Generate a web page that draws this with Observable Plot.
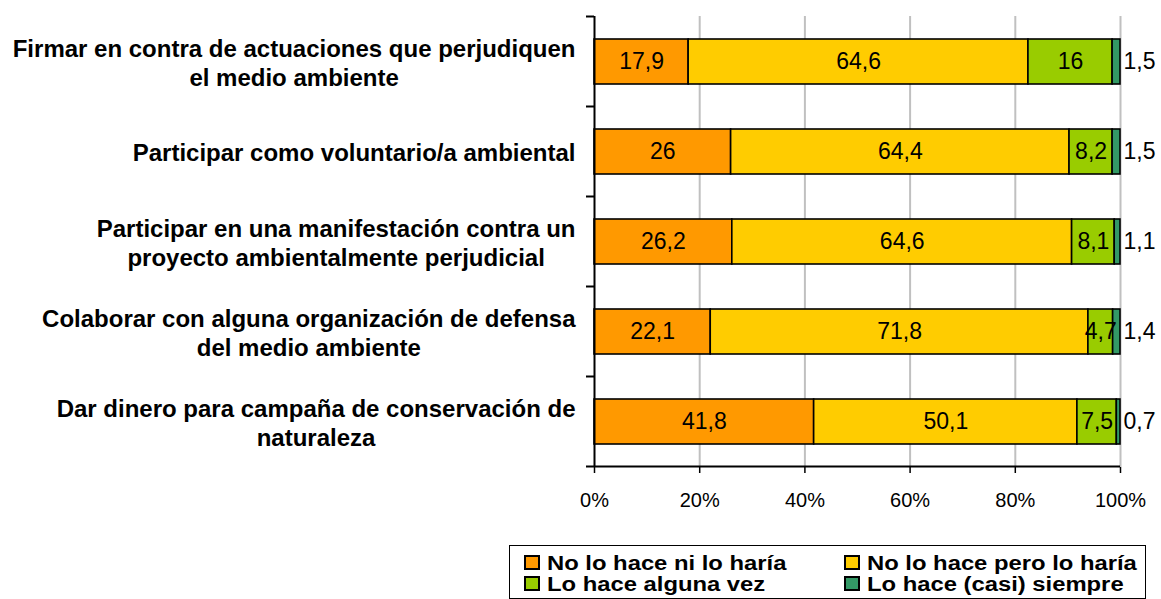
<!DOCTYPE html>
<html>
<head>
<meta charset="utf-8">
<script src="https://cdn.jsdelivr.net/npm/d3@7"></script>
<script src="https://cdn.jsdelivr.net/npm/@observablehq/plot@0.6"></script>
<style>
  html, body { margin: 0; padding: 0; background: #fff; }
  body { position: relative; width: 1161px; height: 599px; overflow: hidden; font-family: "Liberation Sans", Arial, sans-serif; }
  #chart svg { display: block; }
  #legend { position: absolute; left: 509px; top: 545px; width: 637px; height: 54px; border: 1.5px solid #000; box-sizing: border-box; background: #fff; }
  .sw { position: absolute; width: 16px; height: 15px; border: 2px solid #000; box-sizing: border-box; }
  .lt { position: absolute; font: bold 20px/20px "Liberation Sans", Arial, sans-serif; color: #000; white-space: nowrap; transform: scaleX(1.19); transform-origin: left center; }
</style>
</head>
<body>
<div id="chart"></div>
<div id="legend"></div>
<script>
// ---- data ----
const categories = [
  "Firmar en contra de actuaciones que perjudiquen\nel medio ambiente",
  "Participar como voluntario/a ambiental",
  "Participar en una manifestación contra un\nproyecto ambientalmente perjudicial",
  "Colaborar con alguna organización de defensa\ndel medio ambiente",
  "Dar dinero para campaña de conservación de\nnaturaleza"
];
const seriesNames = [
  "No lo hace ni lo haría",
  "No lo hace pero lo haría",
  "Lo hace alguna vez",
  "Lo hace (casi) siempre"
];
const noNiHaria   = [17.9, 26.0, 26.2, 22.1, 41.8];
const noPeroHaria = [64.6, 64.4, 64.6, 71.8, 50.1];
const algunaVez   = [16.0, 8.2, 8.1, 4.7, 7.5];
const casiSiempre = [1.5, 1.5, 1.1, 1.4, 0.7];
const xTicks = [0, 0.2, 0.4, 0.6, 0.8, 1];
const colors = ["#FF9900", "#FFCC00", "#99CC00", "#339966"];

const seriesValues = [noNiHaria, noPeroHaria, algunaVez, casiSiempre];
const table = [];
categories.forEach((c, i) => {
  seriesNames.forEach((s, j) => table.push({cat: c, series: s, value: seriesValues[j][i]}));
});
const fmt = v => String(v).replace(".", ",");
const last = seriesNames[seriesNames.length - 1];

// measure label widths for centered multi-line labels right-aligned to a common edge
const ctx = document.createElement("canvas").getContext("2d");
const labelFont = 'bold 24px "Liberation Sans", Arial, sans-serif';
ctx.font = labelFont;
const labelWidth = c => d3.max(c.split("\n"), l => ctx.measureText(l).width);

const labelMarks = categories.map(c => Plot.text([c], {
  x: () => 0, y: d => d, text: d => d,
  textAnchor: "middle", lineHeight: 1.2,
  dx: -19 - labelWidth(c) / 2,
  fontSize: 24, fontWeight: "bold", fill: "#000"
}));

const chart = Plot.plot({
  width: 1161,
  height: 530,
  marginLeft: 594,
  marginRight: 41,
  marginTop: 16,
  marginBottom: 63,
  style: {fontFamily: '"Liberation Sans", Arial, sans-serif', background: "#fff", color: "#000"},
  x: {domain: [0, 1], axis: null},
  y: {domain: categories, paddingInner: 0.5, paddingOuter: 0.25, axis: null},
  color: {domain: seriesNames, range: colors},
  marks: [
    Plot.ruleX(xTicks.slice(1), {stroke: "#c0c0c0", strokeWidth: 2}),
    Plot.barX(table, Plot.stackX({
      x: "value", y: "cat", z: "series", fill: "series", offset: "normalize",
      stroke: "#000", strokeWidth: 1.6, inset: 0
    })),
    Plot.text(table, Plot.stackX({
      x: "value", y: "cat", z: "series", offset: "normalize",
      text: d => d.series === last ? null : fmt(d.value),
      fontSize: 23, fill: "#000"
    })),
    Plot.text(table, Plot.stackX2({
      x: "value", y: "cat", z: "series", offset: "normalize",
      text: d => d.series === last ? fmt(d.value) : null,
      textAnchor: "start", dx: 3, fontSize: 23, fill: "#000"
    })),
    Plot.axisX({ticks: xTicks, tickFormat: d3.format(".0%"), tickSize: 6, tickPadding: 19, fontSize: 20, strokeWidth: 1.5, label: null}),
    Plot.ruleX([0], {stroke: "#000", strokeWidth: 2}),
    ...labelMarks
  ]
});

// axis lines and category boundary ticks, from Plot's own scales
const xs = chart.scale("x"), ys = chart.scale("y");
const svg = d3.select(chart);
const gap = (ys.step - ys.bandwidth) / 2;
const bottom = ys.apply(categories[categories.length - 1]) + ys.bandwidth + gap;
const g = svg.append("g").attr("stroke", "#000").attr("stroke-width", 2);
g.append("line").attr("x1", xs.apply(0) - 8).attr("x2", xs.apply(1)).attr("y1", bottom).attr("y2", bottom);
categories.forEach(c => {
  const yb = ys.apply(c) - gap;
  g.append("line").attr("x1", xs.apply(0) - 8).attr("x2", xs.apply(0)).attr("y1", yb).attr("y2", yb);
});
document.getElementById("chart").appendChild(chart);

// legend
const legend = document.getElementById("legend");
const pos = [[14, 9], [334, 9], [14, 30], [334, 30]];
seriesNames.forEach((s, i) => {
  const [lx, ly] = pos[i];
  const sw = document.createElement("div");
  sw.className = "sw";
  sw.style.left = lx + "px"; sw.style.top = ly + "px"; sw.style.background = colors[i];
  legend.appendChild(sw);
  const t = document.createElement("div");
  t.className = "lt";
  t.textContent = s;
  t.style.left = (lx + 23) + "px"; t.style.top = (ly - 2) + "px";
  legend.appendChild(t);
});
</script>
</body>
</html>
